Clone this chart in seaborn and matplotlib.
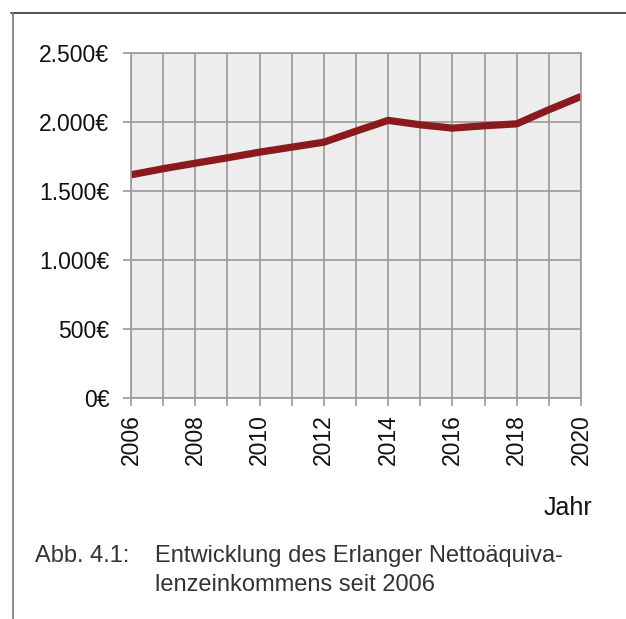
import matplotlib
matplotlib.use("Agg")
import matplotlib.pyplot as plt
import seaborn as sns
import pandas as pd
from matplotlib.lines import Line2D
from matplotlib.ticker import FuncFormatter, MultipleLocator

years = [2006, 2007, 2008, 2009, 2010, 2011, 2012, 2013, 2014, 2015, 2016, 2017, 2018, 2019, 2020]
income = [1616, 1660, 1700, 1739, 1780, 1816, 1852, 1932, 2010, 1978, 1954, 1971, 1985, 2087, 2183]
x_tick_labels = ["2006", "2008", "2010", "2012", "2014", "2016", "2018", "2020"]
y_ticks = [0, 500, 1000, 1500, 2000, 2500]
x_label = "Jahr"
caption_num = "Abb. 4.1:"
caption_lines = ["Entwicklung des Erlanger Nettoäquiva-", "lenzeinkommens seit 2006"]

sns.set_style("whitegrid", {"axes.facecolor": "#EDEDED", "grid.color": "#9A9A9A",
                            "axes.edgecolor": "#9A9A9A"})
plt.rcParams["font.family"] = ["Liberation Sans", "DejaVu Sans"]

df = pd.DataFrame({"Jahr": years, "Einkommen": income})

fig = plt.figure(figsize=(6.26, 6.19), dpi=100)
ax = fig.add_axes([131 / 626, 1 - 398 / 619, 450 / 626, (398 - 52.7) / 619])

sns.lineplot(data=df, x="Jahr", y="Einkommen", ax=ax, color="#8B1A1E", linewidth=5.2,
             solid_joinstyle="round", solid_capstyle="butt")

ax.set_xlim(years[0], years[-1])
ax.set_ylim(y_ticks[0], y_ticks[-1])
ax.set_yticks(y_ticks)
ax.yaxis.set_major_formatter(FuncFormatter(lambda v, p: f"{int(v):,}€".replace(",", ".")))
ax.set_xticks([int(t) for t in x_tick_labels])
ax.set_xticklabels(x_tick_labels, rotation=90)
ax.xaxis.set_minor_locator(MultipleLocator(1))
ax.grid(True, which="major", axis="both", color="#9A9A9A", linewidth=1.2)
ax.grid(True, which="minor", axis="x", color="#9A9A9A", linewidth=1.2)
ax.tick_params(axis="y", which="major", length=6, width=1.2, color="#9A9A9A",
               labelsize=16.5, pad=9.5, left=True, labelcolor="#111111")
ax.tick_params(axis="x", which="both", length=6, width=1.2, color="#9A9A9A",
               labelsize=16.5, pad=5.5, bottom=True, labelcolor="#111111")
for s in ax.spines.values():
    s.set_color("#9A9A9A")
    s.set_linewidth(1.2)
ax.set_xlabel("")
ax.set_ylabel("")

fig.text(592 / 626, 1 - 515 / 619, x_label, ha="right", va="baseline", fontsize=18, color="#111111")
fig.text(35 / 626, 1 - 562 / 619, caption_num, ha="left", va="baseline", fontsize=17, color="#333333")
fig.text(155 / 626, 1 - 562 / 619, caption_lines[0], ha="left", va="baseline", fontsize=17, color="#333333")
fig.text(155 / 626, 1 - 591 / 619, caption_lines[1], ha="left", va="baseline", fontsize=17, color="#333333")

fig.add_artist(Line2D([11 / 626, 1], [1 - 12.5 / 619, 1 - 12.5 / 619], transform=fig.transFigure,
                      color="#333333", linewidth=1.2))
fig.add_artist(Line2D([12.5 / 626, 12.5 / 626], [0, 1 - 12.5 / 619], transform=fig.transFigure,
                      color="#777777", linewidth=1.2))

fig.savefig("out.png", dpi=100)
